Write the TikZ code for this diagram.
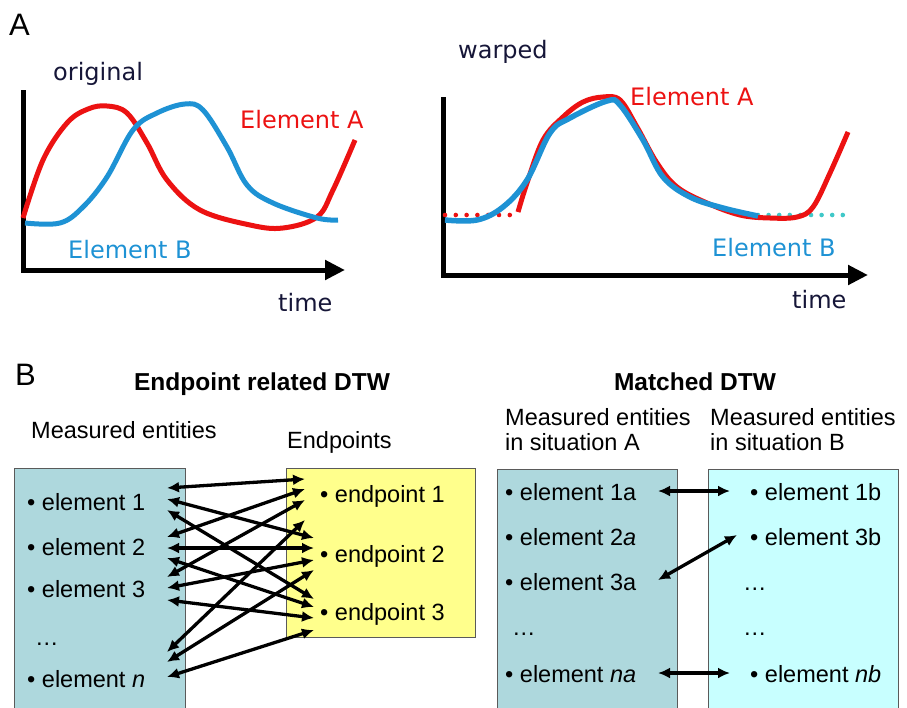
\documentclass[tikz,border=0pt]{standalone}
\usepackage{fontspec}
\setmainfont{Liberation Sans}
\newfontfamily\plotfont{DejaVu Sans}
\usetikzlibrary{arrows.meta}

\definecolor{curveA}{RGB}{236,18,18}
\definecolor{curveB}{RGB}{30,146,212}
\definecolor{dotB}{RGB}{64,200,200}
\definecolor{ink}{RGB}{22,22,56}
\definecolor{boxblue}{RGB}{174,216,221}
\definecolor{boxyellow}{RGB}{255,255,140}
\definecolor{boxcyan}{RGB}{200,255,255}
\definecolor{boxedge}{RGB}{90,90,90}

\begin{document}
\begin{tikzpicture}[x=1pt,y=-1pt,
  lbl/.style={inner sep=0pt, anchor=base west},
  paneltxt/.style={lbl, font=\fontsize{31}{36}\selectfont},
  plottxt/.style={lbl, font=\plotfont\fontsize{24}{28}\selectfont},
  headtxt/.style={inner sep=0pt, anchor=base, font=\bfseries\fontsize{24.5}{29}\selectfont},
  itemtxt/.style={lbl, font=\fontsize{23.5}{28}\selectfont},
  axisline/.style={line width=5pt, line join=miter, -{Triangle[length=20pt,width=19pt]}},
  curve/.style={line width=5pt},
  panelbox/.style={draw=boxedge, line width=1pt},
  link/.style={line width=3.3pt, {Latex[length=12pt,width=11pt]}-{Latex[length=12pt,width=11pt]}}
]
\useasboundingbox (0,0) rectangle (907,707);

% ---------- panel A ----------
\node[paneltxt] (labA) at (9,35) {A};

% original signals
\node[plottxt, text=ink] (orig) at (53,80) {original};
\coordinate (ax1top) at (23,90);
\coordinate (ax1org) at (23,270);
\coordinate (ax1end) at (345,270);
\draw[axisline] (ax1top) -- (ax1org) -- (ax1end);
\draw[curve, curveA] plot[smooth, tension=0.6] coordinates {
  (23,218) (43,160) (67,123) (88,109) (107,106) (127,113) (147,143)
  (167,180) (200,210) (250,225) (283,228) (317,217) (333,190) (355,140)};
\draw[curve, curveB] plot[smooth, tension=0.6] coordinates {
  (25,223) (60,223) (83,207) (107,177) (133,130) (157,113) (185,104)
  (203,110) (227,147) (247,185) (273,203) (317,218) (338,220)};
\node[plottxt, text=curveA] (elA1) at (240,128) {Element A};
\node[plottxt, text=curveB] (elB1) at (68,258) {Element B};
\node[plottxt, text=ink] (time1) at (278,311) {time};

% warped signals
\node[plottxt, text=ink] (warp) at (458,58) {warped};
\coordinate (ax2top) at (443,97);
\coordinate (ax2org) at (443,275);
\coordinate (ax2end) at (868,275);
\draw[axisline] (ax2top) -- (ax2org) -- (ax2end);
\foreach \x in {445,455.8,466.6,477.4,488.2,499,509.8}
  \fill[curveA] (\x,215) circle (2.3);
\foreach \x in {758,768.6,779.2,789.8,800.4,811,821.6,832.2,842.8}
  \fill[dotB] (\x,215) circle (2.3);
\draw[curve, curveA] plot[smooth, tension=0.6] coordinates {
  (518,212) (527,183) (543,140) (563,117) (583,102) (603,97) (620,100)
  (637,127) (657,163) (677,187) (707,203) (740,215) (770,218) (797,217)
  (813,207) (830,173) (848,132)};
\draw[curve, curveB, line width=5.5pt] plot[smooth, tension=0.6] coordinates {
  (445,220) (477,220) (503,207) (527,180) (550,133) (570,118) (607,101)
  (620,105) (643,140) (663,177) (690,197) (723,208) (758,216)};
\node[plottxt, text=curveA] (elA2) at (630,105) {Element A};
\node[plottxt, text=curveB] (elB2) at (712,256) {Element B};
\node[plottxt, text=ink] (time2) at (792,308) {time};

% ---------- panel B ----------
\node[paneltxt] (labB) at (15,385) {B};
\node[headtxt] (head1) at (262,390) {Endpoint related DTW};
\node[headtxt] (head2) at (695,390) {Matched DTW};

% endpoint related DTW
\node[itemtxt] (meas) at (31,438) {Measured entities};
\node[itemtxt] (endp) at (287,448) {Endpoints};
\fill[boxblue] (14,468) rectangle (185,708);
\draw[panelbox] (14,708) -- (14,468) -- (185,468) -- (185,708);
\fill[boxyellow] (286,468) rectangle (475,637);
\draw[panelbox] (286,468) rectangle (475,637);

\node[itemtxt] (m1) at (27,510) {\textbullet\ element 1};
\node[itemtxt] (m2) at (27,555) {\textbullet\ element 2};
\node[itemtxt] (m3) at (27,597) {\textbullet\ element 3};
\node[itemtxt] (mdots) at (35,645) {\dots};
\node[itemtxt] (mn) at (27,687) {\textbullet\ element \textit{n}};

\node[itemtxt] (p1) at (320,502) {\textbullet\ endpoint 1};
\node[itemtxt] (p2) at (320,562) {\textbullet\ endpoint 2};
\node[itemtxt] (p3) at (320,620) {\textbullet\ endpoint 3};

% arrow ends beside each element and endpoint
\foreach \n/\y in {1a/488,1b/499,1c/510,2a/537,2b/548,2c/558,
                   3a/577,3b/588,3c/600,na/652,nb/662,nc/677}
  \coordinate (m\n) at (167,\y);
\foreach \n/\x/\y in {1a/305/479,1b/305/489,1c/305/500,1d/305/520,
                      2a/314/538,2b/314/548,2c/314/560,2d/314/570,
                      3a/314/599,3b/314/607,3c/314/618,3d/314/630}
  \coordinate (p\n) at (\x,\y);

\draw[link] (m1a) -- (p1a);
\draw[link] (m1b) -- (p2a);
\draw[link] (m1c) -- (p3a);
\draw[link] (m2a) -- (p1b);
\draw[link] (m2b) -- (p2b);
\draw[link] (m2c) -- (p3b);
\draw[link] (m3a) -- (p1c);
\draw[link] (m3b) -- (p2c);
\draw[link] (m3c) -- (p3c);
\draw[link] (mna) -- (p1d);
\draw[link] (mnb) -- (p2d);
\draw[link] (mnc) -- (p3d);

% matched DTW
\node[itemtxt] (sitA1) at (505,425) {Measured entities};
\node[itemtxt] (sitA2) at (505,450) {in situation A};
\node[itemtxt] (sitB1) at (710,425) {Measured entities};
\node[itemtxt] (sitB2) at (710,450) {in situation B};
\fill[boxblue] (497,469) rectangle (677,708);
\draw[panelbox] (497,708) -- (497,469) -- (677,469) -- (677,708);
\fill[boxcyan] (708,469) rectangle (898,708);
\draw[panelbox] (708,708) -- (708,469) -- (898,469) -- (898,708);

\node[itemtxt] (a1) at (505,500) {\textbullet\ element 1a};
\node[itemtxt] (a2) at (505,545) {\textbullet\ element 2\textit{a}};
\node[itemtxt] (a3) at (505,590) {\textbullet\ element 3a};
\node[itemtxt] (adots) at (512,635) {\dots};
\node[itemtxt] (an) at (505,682) {\textbullet\ element \textit{na}};

\node[itemtxt] (b1) at (750,500) {\textbullet\ element 1b};
\node[itemtxt] (b3) at (750,545) {\textbullet\ element 3b};
\node[itemtxt] (bdots1) at (743,590) {\dots};
\node[itemtxt] (bdots2) at (743,635) {\dots};
\node[itemtxt] (bn) at (750,682) {\textbullet\ element \textit{nb}};

\coordinate (sa1) at (658,491);
\coordinate (sb1) at (730,491);
\coordinate (sa3) at (658,580);
\coordinate (sb3) at (737,535);
\coordinate (san) at (658,673);
\coordinate (sbn) at (730,673);
\draw[link] (sa1) -- (sb1);
\draw[link] (sa3) -- (sb3);
\draw[link] (san) -- (sbn);
\end{tikzpicture}
\end{document}
